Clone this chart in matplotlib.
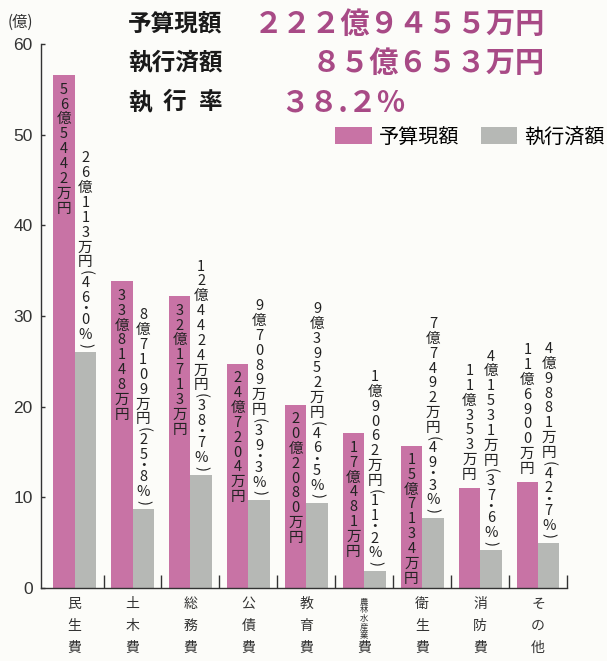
import matplotlib
matplotlib.use("Agg")
import matplotlib.pyplot as plt
import numpy as np

plt.rcParams["font.family"] = ["Noto Sans CJK JP", "DejaVu Sans"]

# 予算現額 / 執行済額 (単位: 億円)
categories = ["民生費", "土木費", "総務費", "公債費", "教育費",
              "農林水産業費", "衛生費", "消防費", "その他"]
budget = [56.5442, 33.8148, 32.1713, 24.7204, 20.2080,
          17.0481, 15.7134, 11.0353, 11.6900]
executed = [26.0113, 8.7109, 12.4424, 9.7089, 9.3952,
            1.9062, 7.7492, 4.1531, 4.9881]
# budget label drawn inside the bar (True) or on top of it (False)
budget_label_inside = [True, True, True, True, True, True, True, False, False]

PINK = "#c873a5"
GRAY = "#b6b8b5"
NUM_PINK = "#a84a86"
BG = "#fcfcf9"
INK = "#222222"

FW = str.maketrans("0123456789", "０１２３４５６７８９")


def oku(v):
    n = int(round(v * 10000))
    o, m = divmod(n, 10000)
    return f"{o}億{m}万円"


STEP = 10.7  # pt per stacked character
SHORT = {"(": 0.38, ")": 0.38, "・": 0.5}


def vtext(ax, x, y, s, anchor="top", pad=4.0, size=10.5, step=STEP, color=INK):
    steps = [SHORT.get(c, 1.0) * step for c in s]
    pos = -pad if anchor == "top" else pad + sum(steps)
    for c, h in zip(s, steps):
        rot = -90 if c in "()" else 0
        ax.annotate(c, (x, y), xytext=(0, pos - h / 2), textcoords="offset points",
                    ha="center", va="center", fontsize=size, color=color,
                    rotation=rot, rotation_mode="anchor", annotation_clip=False)
        pos -= h


fig = plt.figure(figsize=(6.07, 6.61), dpi=100, facecolor=BG)
ax = fig.add_axes([41 / 607, 1 - 588 / 661, 526 / 607, 544 / 661])
ax.set_facecolor(BG)

x = np.arange(len(categories))
w = 0.37
ax.bar(x - w / 2, budget, w, color=PINK, label="予算現額")
ax.bar(x + w / 2, executed, w, color=GRAY, label="執行済額")

for i in range(len(categories)):
    b, e = budget[i], executed[i]
    if budget_label_inside[i]:
        vtext(ax, x[i] - w / 2, b, oku(b), anchor="top", pad=5)
    else:
        vtext(ax, x[i] - w / 2, b, oku(b), anchor="bottom", pad=4)
    rate = f"{e / b * 100:.1f}".replace(".", "・")
    vtext(ax, x[i] + w / 2, e, oku(e) + f"({rate}%)", anchor="bottom", pad=3)

ax.set_xlim(-0.58, 8.5)
ax.set_ylim(0, 60)
ax.set_yticks(np.arange(0, 61, 10))
ax.set_xticks(x + 0.5)
ax.set_xticklabels([])
ax.tick_params(axis="x", direction="in", length=9.5, width=1.0, color="#333333")
ax.tick_params(axis="y", direction="in", length=3, width=1.0, color="#333333",
               labelsize=12.5, pad=6, labelcolor="#333333")
for lbl in ax.get_yticklabels():
    lbl.set_fontfamily("Liberation Sans")
for s in ("top", "right"):
    ax.spines[s].set_visible(False)
for s in ("left", "bottom"):
    ax.spines[s].set_color("#333333")
    ax.spines[s].set_linewidth(1.0)

# category names, stacked vertically under each group
for i, name in enumerate(categories):
    if len(name) > 3:
        vtext(ax, x[i], 0, name[:-1], anchor="top", pad=6.5, size=6, step=6.2, color="#333333")
        ax.annotate(name[-1], (x[i], 0), xytext=(0, -43.2), textcoords="offset points",
                    ha="center", va="center", fontsize=10, color="#333333",
                    annotation_clip=False)
    else:
        for k, c in enumerate(name):
            ax.annotate(c, (x[i], 0), xytext=(0, -11.5 - 15.8 * k), textcoords="offset points",
                        ha="center", va="center", fontsize=10, color="#333333",
                        annotation_clip=False)

fig.text(8 / 607, 1 - 22 / 661, "(億)", fontsize=11, color="#333333", va="center", ha="left")

# summary block
total_b = sum(budget)
total_e = sum(executed)
row_y = [1 - 24 / 661, 1 - 63 / 661, 1 - 102 / 661]
fig.text(128 / 607, row_y[0], "予算現額", fontsize=17, fontweight="bold", color="#1a1a1a", va="center")
fig.text(128 / 607, row_y[1], "執行済額", fontsize=17, fontweight="bold", color="#1a1a1a", va="center")
for k, c in enumerate("執行率"):
    fig.text((128 + 35 * k) / 607, row_y[2], c, fontsize=17, fontweight="bold", color="#1a1a1a", va="center")
fig.text(545 / 607, row_y[0], oku(total_b).translate(FW), fontsize=21, fontweight="bold",
         color=NUM_PINK, va="center", ha="right")
fig.text(545 / 607, row_y[1], oku(total_e).translate(FW), fontsize=21, fontweight="bold",
         color=NUM_PINK, va="center", ha="right")
fig.text(280 / 607, row_y[2], f"{total_e / total_b * 100:.1f}".translate(FW) + "%", fontsize=21,
         fontweight="bold", color=NUM_PINK, va="center", ha="left")

ax.legend(loc="center right", bbox_to_anchor=(605 / 607, 1 - 137 / 661),
          bbox_transform=fig.transFigure, ncol=2, frameon=False, fontsize=14.5,
          handlelength=1.8, handleheight=0.85, handletextpad=0.35, columnspacing=1.1,
          borderpad=0, borderaxespad=0)

fig.savefig("out.png", dpi=100, facecolor=BG)
